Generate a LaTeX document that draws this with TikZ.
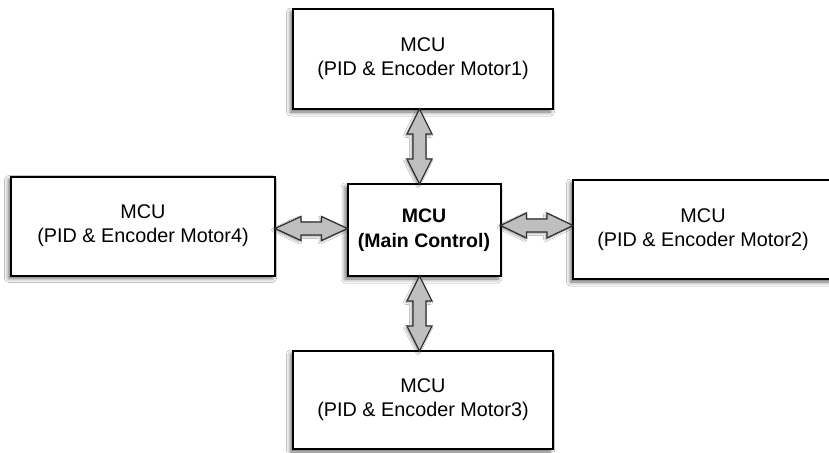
\documentclass[tikz,border=0pt]{standalone}
\usepackage{fontspec}
\setmainfont{Liberation Sans}
\usetikzlibrary{calc,shadows.blur}
\begin{document}
\begin{tikzpicture}[x=1pt,y=-1pt,
  box/.style={draw=black, line width=2pt, fill=white, inner sep=0pt, outer sep=0pt,
    align=center, font=\fontsize{19.8}{24}\selectfont,
    blur shadow={shadow xshift=-2.5pt, shadow yshift=-3pt, shadow blur radius=4pt, shadow opacity=60}},
  arr/.style={draw=black!80, line width=1.3pt, fill=black!25, line join=miter,
    blur shadow={shadow xshift=-1.5pt, shadow yshift=-1.5pt, shadow blur radius=2pt, shadow opacity=40}}]
\useasboundingbox (0,0) rectangle (829,452);
\clip (0,0) rectangle (829,452);
\fill[white] (0,0) rectangle (829,452);

\node[box, minimum width=260pt, minimum height=100pt] (top) at (423,59) {MCU\\(PID \& Encoder Motor1)};
\node[box, minimum width=264pt, minimum height=99pt] (left) at (143,226) {MCU\\(PID \& Encoder Motor4)};
\node[box, minimum width=153pt, minimum height=92pt, font=\bfseries\fontsize{19.5}{25}\selectfont] (ctr) at (424,230) {MCU\\(Main Control)};
\node[box, minimum width=260pt, minimum height=99pt] (right) at (703,229.5) {MCU\\(PID \& Encoder Motor2)};
\node[box, minimum width=260pt, minimum height=98pt] (bot) at (423,400) {MCU\\(PID \& Encoder Motor3)};

\coordinate (vx) at (419.5,0);
\coordinate (hl) at (0,228.5);
\coordinate (hr) at (0,225.5);

% vertical arrows
\draw[arr]
  (top.south -| vx) coordinate (A1)
  -- ($(A1)+(12.5,25)$) -- ($(A1)+(6.5,25)$)
  -- ($(ctr.north -| vx)+(6.5,-25)$) -- ($(ctr.north -| vx)+(12.5,-25)$)
  -- (ctr.north -| vx)
  -- ($(ctr.north -| vx)+(-12.5,-25)$) -- ($(ctr.north -| vx)+(-6.5,-25)$)
  -- ($(A1)+(-6.5,25)$) -- ($(A1)+(-12.5,25)$) -- cycle;
\draw[arr]
  (ctr.south -| vx) coordinate (A2)
  -- ($(A2)+(12.5,25)$) -- ($(A2)+(6.5,25)$)
  -- ($(bot.north -| vx)+(6.5,-25)$) -- ($(bot.north -| vx)+(12.5,-25)$)
  -- (bot.north -| vx)
  -- ($(bot.north -| vx)+(-12.5,-25)$) -- ($(bot.north -| vx)+(-6.5,-25)$)
  -- ($(A2)+(-6.5,25)$) -- ($(A2)+(-12.5,25)$) -- cycle;
% horizontal arrows
\draw[arr]
  (left.east |- hl) coordinate (B1)
  -- ($(B1)+(26,-12)$) -- ($(B1)+(26,-6.5)$)
  -- ($(ctr.west |- hl)+(-26,-6.5)$) -- ($(ctr.west |- hl)+(-26,-12)$)
  -- (ctr.west |- hl)
  -- ($(ctr.west |- hl)+(-26,12)$) -- ($(ctr.west |- hl)+(-26,6.5)$)
  -- ($(B1)+(26,6.5)$) -- ($(B1)+(26,12)$) -- cycle;
\draw[arr]
  (ctr.east |- hr) coordinate (B2)
  -- ($(B2)+(26,-12.5)$) -- ($(B2)+(26,-6.5)$)
  -- ($(right.west |- hr)+(-26,-6.5)$) -- ($(right.west |- hr)+(-26,-12.5)$)
  -- (right.west |- hr)
  -- ($(right.west |- hr)+(-26,12.5)$) -- ($(right.west |- hr)+(-26,6.5)$)
  -- ($(B2)+(26,6.5)$) -- ($(B2)+(26,12.5)$) -- cycle;
\end{tikzpicture}
\end{document}
